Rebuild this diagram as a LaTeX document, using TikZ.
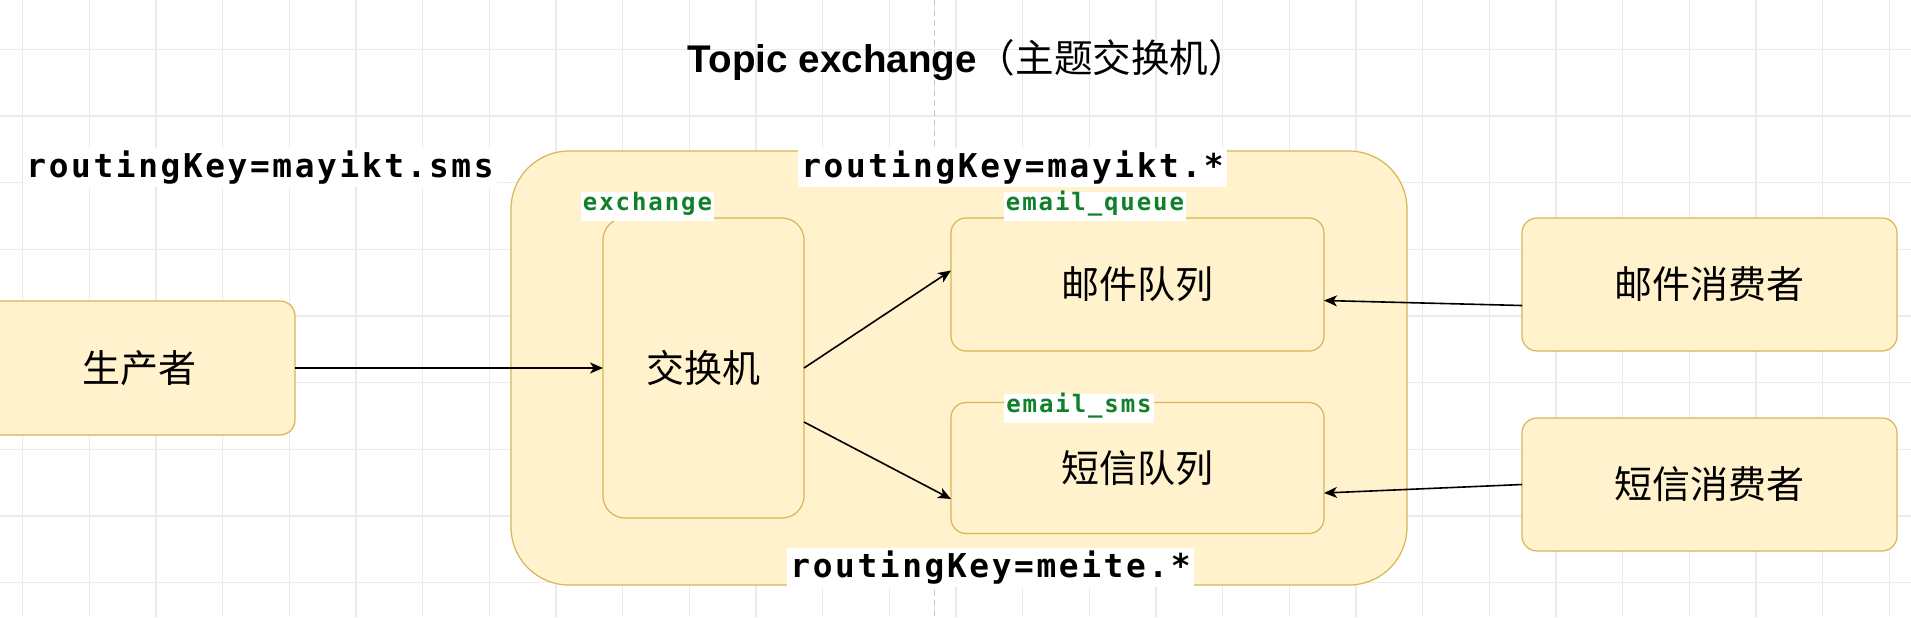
\documentclass[tikz,border=0pt]{standalone}
\usepackage{fontspec}
\setmainfont{Liberation Sans}
\newfontfamily\song{Noto Sans CJK SC}
\newfontfamily\mono{DejaVu Sans Mono}[LetterSpace=8]
\usetikzlibrary{arrows.meta,calc}
\definecolor{boxfill}{HTML}{FFF2CC}
\definecolor{boxline}{HTML}{D6B656}
\definecolor{gridc}{HTML}{EBEBEB}
\definecolor{lblgreen}{HTML}{10802A}
\begin{document}
\begin{tikzpicture}[x=0.5pt,y=-0.5pt,
  gridline/.style={draw=gridc,line width=0.6pt},
  dashv/.style={draw=gray!45,line width=0.5pt,dash pattern=on 3pt off 2pt},
  ybox/.style={draw=boxline,fill=boxfill,line width=0.6pt,rounded corners=7.5pt,
    inner sep=0pt,outer sep=0pt,font=\song\fontsize{19}{23}\selectfont},
  outerbox/.style={ybox,rounded corners=29pt,minimum width=448pt,minimum height=217pt},
  rk/.style={anchor=base,fill=white,inner xsep=1.5pt,inner ysep=1.5pt,
    text height=13pt,text depth=3.5pt,font=\mono\bfseries\fontsize{16.4}{19}\selectfont},
  glbl/.style={anchor=base,fill=white,inner xsep=1pt,inner ysep=1pt,text=lblgreen,
    text height=8pt,text depth=4.5pt,font=\mono\bfseries\fontsize{12}{14}\selectfont},
  arr/.style={draw=black,line width=0.8pt,-{Stealth[length=6.5pt,width=5.5pt,inset=1.8pt]}}
]
\useasboundingbox (0,0) rectangle (1911,617);
\clip (0,0) rectangle (1911,617);
\fill[white] (0,0) rectangle (1911,617);
% grid
\foreach \i in {0,...,28} \draw[gridline] ({22.7+66.667*\i},0) -- ({22.7+66.667*\i},617);
\foreach \j in {0,...,8} \draw[gridline] (0,{49.3+66.667*\j}) -- (1911,{49.3+66.667*\j});
% dashed guide
\draw[dashv] (934,0) -- (934,617);
% title
\node[anchor=base,inner sep=0pt] (title) at (967.5,72)
  {{\bfseries\fontsize{19.3}{23}\selectfont Topic exchange}{\song\fontsize{19.3}{23}\selectfont （主题交换机）}};
% left routing key
\node[rk] (rk1) at (260,177) {routingKey=mayikt.sms};
% container
\node[outerbox] (outer) at (959,368) {};
\node[rk] (rk2) at (1012.5,177) {routingKey=mayikt.*};
\node[rk] (rk3) at (990.5,577) {routingKey=meite.*};
% boxes
\node[ybox,minimum width=156pt,minimum height=67pt] (pr) at (139,368) {生产者};
\node[ybox,rounded corners=11pt,minimum width=100.5pt,minimum height=150pt] (ex) at (703.5,368) {交换机};
\node[ybox,minimum width=186.5pt,minimum height=66.5pt] (eq) at (1137.5,284.5) {邮件队列};
\node[ybox,minimum width=186.5pt,minimum height=65.5pt] (sq) at (1137.5,468) {短信队列};
\node[ybox,minimum width=187.5pt,minimum height=66.5pt] (ec) at (1709.5,284.5) {邮件消费者};
\node[ybox,minimum width=187.5pt,minimum height=66.5pt] (sc) at (1709.5,484.5) {短信消费者};
% green labels
\node[glbl] (lex) at (647.5,210) {exchange};
\node[glbl] (leq) at (1095,210) {email\_queue};
\node[glbl] (lsq) at (1079,412) {email\_sms};
% arrows
\draw[arr] (pr.east) -- (ex.west);
\draw[arr] (ex.east) -- ($(eq.west)+(0,-14)$);
\draw[arr] ($(ex.east)+(0,54)$) -- ($(sq.west)+(0,31)$);
\draw[arr] ($(ec.west)+(0,21)$) -- ($(eq.east)+(0,16)$);
\draw[arr] (sc.west) -- ($(sq.east)+(0,25)$);
\end{tikzpicture}
\end{document}
